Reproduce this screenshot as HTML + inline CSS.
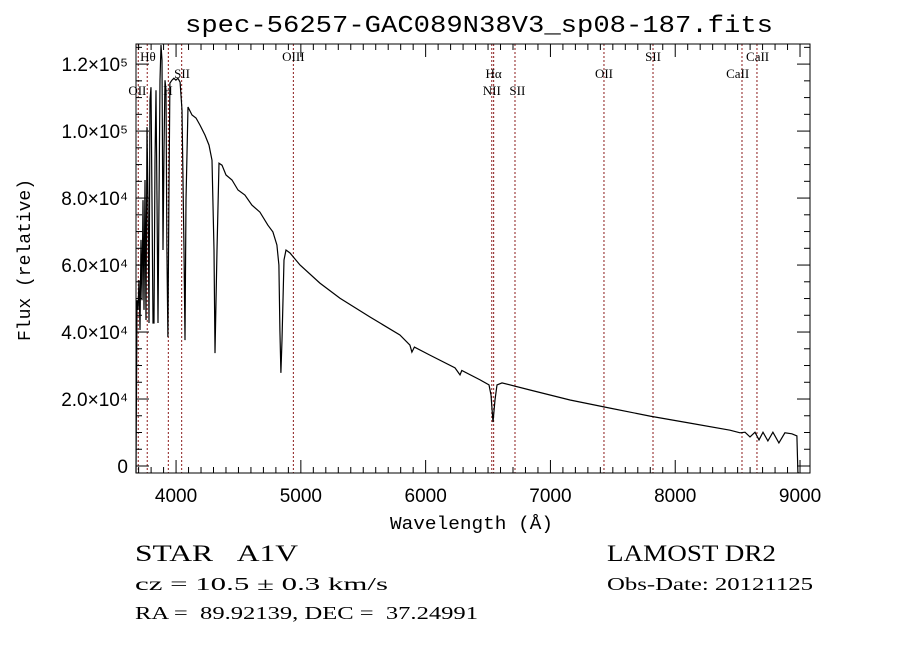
<!DOCTYPE html>
<html><head><meta charset="utf-8"><style>
body{margin:0;background:#fff}
svg{display:block}
.t{font-family:"Liberation Sans",sans-serif;font-size:19px;fill:#000}
.s{font-family:"Liberation Serif",serif;font-size:13px;fill:#000}
.m{font-family:"Liberation Mono",monospace;fill:#000}
.i{font-family:"Liberation Serif",serif;fill:#000}
</style></head><body>
<svg id="c" width="900" height="649" viewBox="0 0 900 649">
<rect width="900" height="649" fill="#fff"/>
<text class="m" x="185" y="32" font-size="24" textLength="588" lengthAdjust="spacingAndGlyphs">spec-56257-GAC089N38V3_sp08-187.fits</text>
<text class="m" x="390" y="529" font-size="18" textLength="163" lengthAdjust="spacingAndGlyphs">Wavelength (Å)</text>
<text class="m" x="30" y="260" font-size="18" text-anchor="middle" transform="rotate(-90 30 260)">Flux (relative)</text>
<g id="lines"></g>
<g id="ticks"></g>
<path id="spec" fill="none" stroke="#000" stroke-width="1.2"/>
<rect x="136" y="44" width="674" height="429" fill="none" stroke="#000" stroke-width="1"/>
<text class="i" x="135" y="561" font-size="23" textLength="163" lengthAdjust="spacingAndGlyphs">STAR &#160;&#160;A1V</text>
<text class="i" x="607" y="561" font-size="23" textLength="169" lengthAdjust="spacingAndGlyphs">LAMOST DR2</text>
<text class="i" x="135" y="590" font-size="18" textLength="253" lengthAdjust="spacingAndGlyphs">cz = 10.5 ± 0.3 km/s</text>
<text class="i" x="607" y="590" font-size="18" textLength="206" lengthAdjust="spacingAndGlyphs">Obs-Date: 20121125</text>
<text class="i" x="135" y="619" font-size="18" textLength="343" lengthAdjust="spacingAndGlyphs">RA = &#160;89.92139, DEC = &#160;37.24991</text>
</svg>
<script>
const wl=[3679,3687,3695,3703,3711,3719,3727,3735,3743,3751,3759,3767,3775,3783,3791,3799,3807,3815,3823,3831,3839,3847,3855,3863,3871,3879,3887,3895,3903,3911,3919,3927,3935,3943,3951,3967,3983,3999,4015,4032,4048,4064,4072,4080,4096,4128,4160,4192,4232,4264,4288,4304,4312,4328,4344,4368,4400,4448,4496,4552,4608,4672,4736,4776,4808,4824,4832,4840,4849,4865,4881,4913,4993,5153,5314,5554,5794,5874,5890,5910,6034,6235,6275,6290,6436,6508,6524,6540,6556,6572,6612,6836,7157,7477,7798,8118,8439,8519,8559,8599,8639,8671,8703,8743,8783,8831,8879,8935,8975,8983,8990];
const flux=[-2000,49500,46600,55500,40600,67500,49500,79400,46600,85400,43600,101200,79400,42700,109300,113100,79400,42700,42700,91300,112200,79400,42700,79400,115200,125700,121200,64500,94300,115200,112200,64500,38500,79400,114300,115200,115800,115200,115800,114600,106300,64500,37600,79400,107200,104800,103900,101800,98800,95800,91300,64500,33700,64500,90400,89800,86900,85400,82400,80900,77900,75800,71900,69900,66000,60000,40600,27800,37600,61500,64500,63600,60000,54600,50100,44500,39100,36100,34000,35500,33100,29300,27200,28500,25700,24200,21200,13100,19700,24200,24800,22700,19700,17300,14900,12800,10700,9900,10100,8700,10100,7800,10100,7500,10100,6900,9900,9600,9000,-2000,-2000];
const yTickVals=[0,20000,40000,60000,80000,100000,120000];
const yTickLabels=["0","2.0×10⁴","4.0×10⁴","6.0×10⁴","8.0×10⁴","1.0×10⁵","1.2×10⁵"];
const xTickVals=[4000,5000,6000,7000,8000,9000];
const xTickLabels=["4000","5000","6000","7000","8000","9000"];
const lineWl=[3697,3769,3938,4045,4940,6530,6545,6716,7429,7822,8535,8655];
const lineLabels=["OII","Hθ","H","SII","OIII","Hα","NII","SII","OII","SII","CaII","CaII"];
const lineLabelWl=[3690,3775,3935,4048,4940,6545,6530,6735,7429,7822,8500,8660];
const lineLabelRow=[2,0,2,1,0,1,2,2,1,0,1,0];

const X0=136,X1=810,Y0=473,Y1=44,WMIN=3679,WMAX=9080,FMIN=-2090,FMAX=126000;
const xs=w=>X0+(w-WMIN)/(WMAX-WMIN)*(X1-X0);
const ys=f=>Y0-(f-FMIN)/(FMAX-FMIN)*(Y0-Y1);
const NS="http://www.w3.org/2000/svg";
function mk(t,a,p){const e=document.createElementNS(NS,t);for(const k in a)e.setAttribute(k,a[k]);p.appendChild(e);return e;}
let d="";wl.forEach((w,i)=>{d+=(i?"L":"M")+xs(w).toFixed(1)+","+ys(flux[i]).toFixed(1);});
document.getElementById("spec").setAttribute("d",d);
const tg=document.getElementById("ticks"),svg=document.getElementById("c");
for(let w=3700;w<=9080;w+=100){const x=xs(w),big=w%1000===0,L=big?13:6;
mk("line",{x1:x,x2:x,y1:Y0,y2:Y0-L,stroke:"#000"},tg);mk("line",{x1:x,x2:x,y1:Y1,y2:Y1+L,stroke:"#000"},tg);}
for(let f=0;f<=125000;f+=5000){const y=ys(f),big=f%20000===0,L=big?13:6;
mk("line",{x1:X0,x2:X0+L,y1:y,y2:y,stroke:"#000"},tg);mk("line",{x1:X1,x2:X1-L,y1:y,y2:y,stroke:"#000"},tg);}
xTickVals.forEach((v,i)=>{const t=mk("text",{x:xs(v),y:502,"text-anchor":"middle",class:"t"},svg);t.textContent=xTickLabels[i];

});
yTickVals.forEach((v,i)=>{const t=mk("text",{x:128,y:ys(v)+7,"text-anchor":"end",class:"t"},svg);t.textContent=yTickLabels[i];

});
const lg=document.getElementById("lines");
lineWl.forEach(w=>{const l=mk("line",{x1:xs(w),x2:xs(w),y1:Y1,y2:Y0,stroke:"#8b1a1a","stroke-width":1,"stroke-dasharray":"2,2"},lg);

});
lineLabels.forEach((s,i)=>{const t=mk("text",{x:xs(lineLabelWl[i]),y:61+lineLabelRow[i]*17,"text-anchor":"middle",class:"s"},svg);t.textContent=s;

});
</script>
</body></html>
